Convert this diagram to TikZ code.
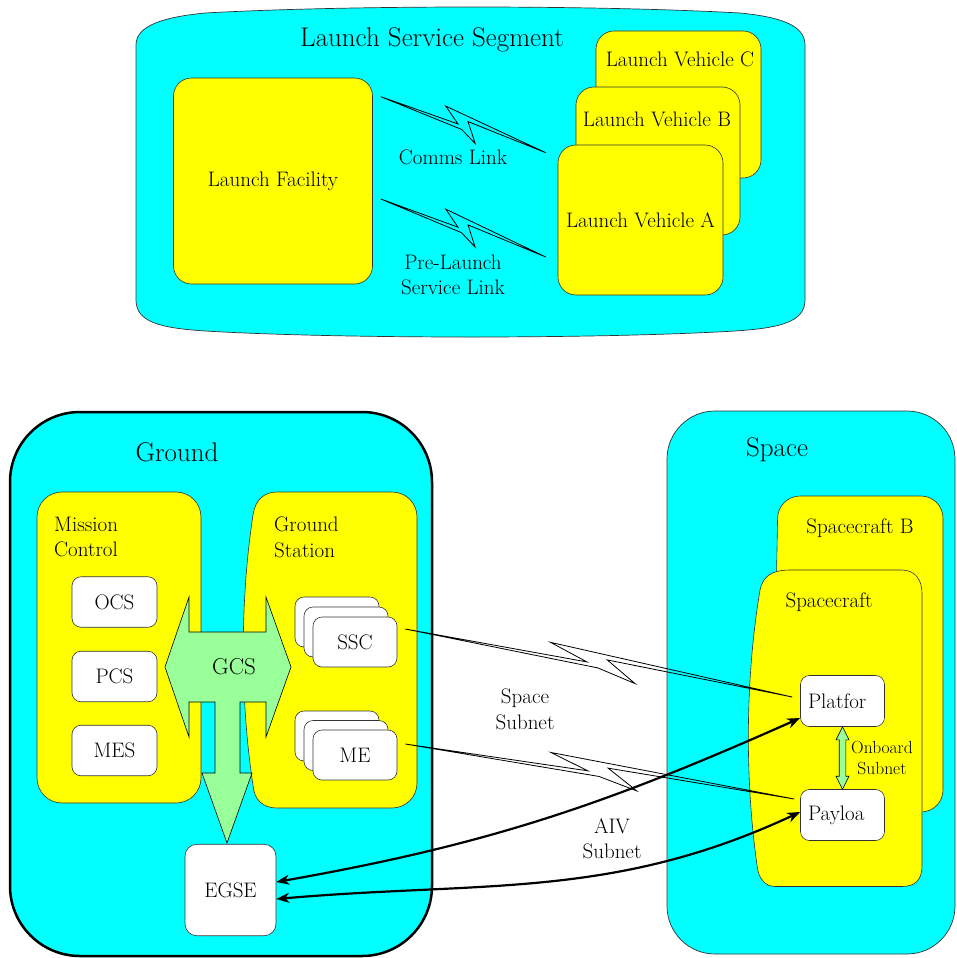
\documentclass[tikz,border=0pt]{standalone}
\usepackage{fontspec}
\usetikzlibrary{calc,arrows.meta}
\definecolor{areacyan}{RGB}{0,255,255}
\definecolor{unityellow}{RGB}{255,255,0}
\definecolor{gcsgreen}{RGB}{153,255,153}
% lightning link between two points
\newcommand{\zaplink}[2]{%
  \draw[zap] (#1) -- ($(#1)!0.47!(#2)!1pt!-90:(#2)$)
    -- ($(#1)!0.37!(#2)!12pt!90:(#2)$) -- (#2)
    -- ($(#1)!0.52!(#2)!4.5pt!90:(#2)$)
    -- ($(#1)!0.6!(#2)!14pt!-90:(#2)$)
    -- ($(#1)!0.5!(#2)!5pt!-90:(#2)$) -- cycle;}
\begin{document}
\begin{tikzpicture}[x=1pt,y=1pt,
  txt/.style={inner sep=3pt,font=\fontsize{21}{25.5}\selectfont},
  small/.style={inner sep=0,font=\fontsize{17.5}{21}\selectfont},
  title/.style={inner sep=0,font=\fontsize{27}{30}\selectfont},
  area/.style={draw=black!80,fill=areacyan,line width=0.7pt},
  unit/.style={draw=black!80,fill=unityellow,line width=0.6pt,rounded corners=18pt,font=\fontsize{21}{25.5}\selectfont},
  box/.style={draw=black!80,fill=white,line width=0.6pt,rounded corners=9pt,minimum width=84pt,minimum height=50pt,font=\fontsize{21}{25.5}\selectfont},
  zap/.style={line width=0.8pt},
  aiv/.style={line width=2.2pt,{Stealth[length=13pt,width=10pt,inset=4pt]}-{Stealth[length=13pt,width=10pt,inset=4pt]}},
  fat/.style={draw=black,fill=gcsgreen,line width=0.6pt}
  ]
  \useasboundingbox (0,0) rectangle (956,-958);
  % 
  % Launch service segment
  % 
  \draw[area] (136,-45) .. controls (136,-25) and (165,-17) .. (205,-13)
    .. controls (350,-5) and (595,-5) .. (740,-13)
    .. controls (780,-17) and (805,-25) .. (805,-45) -- (805,-300)
    .. controls (805,-322) and (780,-328) .. (735,-331)
    .. controls (600,-339) and (340,-339) .. (205,-331)
    .. controls (160,-328) and (136,-322) .. (136,-300) -- cycle;
  \node(segtitle)[title] at (432,-40) {Launch Service Segment};
  \node(lf) [unit,minimum width=199pt,minimum height=206pt] at (273,-181)   {Launch Facility};
  \node(lvc)[unit,minimum width=165pt,minimum height=147pt] at (678.5,-104.5){};
  \node(lvctext)[txt] at (680,-59) {Launch Vehicle C};
  \node(lvb)[unit,minimum width=164pt,minimum height=148pt] at (658,-161)   {};
  \node(lvbtext)[txt] at (657,-119) {Launch Vehicle B};
  \node(lva)[unit,minimum width=165pt,minimum height=150pt] at (640.5,-220) {Launch Vehicle A};
  % comms / pre-launch links
  \coordinate (commsA) at ([shift={(8,-19)}]lf.north east);
  \coordinate (commsB) at ([shift={(-12,-8)}]lva.north west);
  \coordinate (preA)   at ([shift={(8,-18)}]lf.east);
  \coordinate (preB)   at ([shift={(-12,-37)}]lva.west);
  \zaplink{commsA}{commsB}
  \zaplink{preA}{preB}
  \node(commstext)[txt] at (453,-157) {Comms Link};
  \node(pretext)  [txt,align=center] at (453,-275) {Pre-Launch\\Service Link};
  % 
  % Ground
  % 
  \node(ground)[area,draw=black,line width=2.5pt,rounded corners=70pt,minimum width=422pt,minimum height=544pt] at (221,-684) {};
  \node(groundtitle)[title] at (177,-452) {Ground};
  \node(mc)[unit,rounded corners=25pt,minimum width=164pt,minimum height=311pt] at (119,-647.5) {};
  \node(mctext)[txt,align=left,anchor=north west] at (51,-513.7) {Mission\\Control};
  \draw[unit,sharp corners] (277,-492) -- (392,-492) .. controls (406,-492) and (417,-503) .. (417,-517)
    -- (417,-783) .. controls (417,-797) and (406,-808) .. (392,-808) -- (277,-808)
    .. controls (263,-808) and (254,-800) .. (253,-785)
    .. controls (240,-700) and (240,-600) .. (253,-515)
    .. controls (255,-500) and (264,-492) .. (277,-492) -- cycle;
  \node(gstext)[txt,align=left,anchor=north west] at (271,-513.7) {Ground\\Station};
  \node(ocs)[box,minimum width=85pt,minimum height=50.5pt] at (114.5,-602)   {OCS};
  \node(pcs)[box,minimum width=85pt,minimum height=50.5pt] at (114.5,-676.5) {PCS};
  \node(mes)[box,minimum width=85pt,minimum height=50.5pt] at (114.5,-750.5) {MES};
  \node(sscc)[box] at (337,-622) {};
  \node(sscb)[box] at (346,-632) {};
  \node(ssc) [box] at (355,-642) {SSC};
  \node(mec)[box] at (337,-736)   {};
  \node(meb)[box] at (346,-745.5) {};
  \node(me) [box] at (355,-755)   {ME};
  \node(egse)[box,rounded corners=12pt,minimum width=91pt,minimum height=91.5pt] at (230.5,-890) {EGSE};
  % GCS arrow
  \draw[fat] (165,-667) -- (189,-597) -- (189,-632) -- (266,-632) -- (266,-597) -- (291,-667)
    -- (266,-737) -- (266,-702) -- (240,-702) -- (240,-773) -- (252,-773) -- (227,-843)
    -- (202,-773) -- (215,-773) -- (215,-702) -- (189,-702) -- (189,-737) -- cycle;
  \node(gcs)[txt,font=\fontsize{23}{26}\selectfont] at (234,-667) {GCS};
  % 
  % Space
  % 
  \node(space)[area,rounded corners=48pt,minimum width=288pt,minimum height=543pt] at (811,-682.5) {};
  \node(spacetitle)[title] at (777,-450) {Space};
  \draw[unit,rounded corners=22pt] (772,-812) -- (778,-496) -- (943,-496) -- (943,-812) -- cycle;
  \node(scbtext)[txt] at (860,-528.5) {Spacecraft B};
  \draw[unit,sharp corners] (790,-570) -- (902,-570) .. controls (915,-570) and (922,-580) .. (922,-593)
    -- (922,-866) .. controls (922,-880) and (915,-886.5) .. (902,-886.5) -- (775,-886.5)
    .. controls (765,-886.5) and (758,-878) .. (757,-865)
    .. controls (745,-780) and (745,-680) .. (760,-590)
    .. controls (763,-576) and (772,-570) .. (790,-570) -- cycle;
  \node(sctext)[txt] at (829,-602) {Spacecraft};
  \node(platform)[box,minimum height=51pt,inner xsep=7pt,text width=69pt,align=left] at (842.5,-701) {Platfor};
  \node(payload) [box,minimum height=51pt,inner xsep=7pt,text width=69pt,align=left] at (842.5,-815) {Payloa};
  % onboard subnet
  \draw[fat] (platform.south) -- ++(6.5,-13) -- ++(-3.2,0) -- ($(payload.north)+(3.3,13)$) -- ++(3.2,0)
    -- (payload.north) -- ++(-6.5,13) -- ++(3.2,0) -- ($(platform.south)+(-3.3,-13)$) -- ++(-3.2,0) -- cycle;
  \node(obtext)[small,align=center] at (882,-758) {Onboard\\Subnet};
  % 
  % Space subnet links
  % 
  \coordinate (sscA)  at ([shift={(8,13)}]ssc.east);
  \coordinate (platB) at ([shift={(-8,4)}]platform.west);
  \coordinate (meA)   at ([shift={(8,11)}]me.east);
  \coordinate (payB)  at ([shift={(-6,16)}]payload.west);
  \zaplink{sscA}{platB}
  \zaplink{meA}{payB}
  \node(sstext)[txt,align=center] at (525,-709.5) {Space\\Subnet};
  % 
  % AIV subnet
  % 
  \draw[aiv] ([yshift=8pt]egse.east) to[out=10,in=204] ([yshift=-17pt]platform.west);
  \draw[aiv] ([yshift=-9pt]egse.east) to[out=5,in=205] ([yshift=3pt]payload.west);
  \node(aivtext)[txt,align=center] at (612,-838.5) {AIV\\Subnet};
\end{tikzpicture}
\end{document}
